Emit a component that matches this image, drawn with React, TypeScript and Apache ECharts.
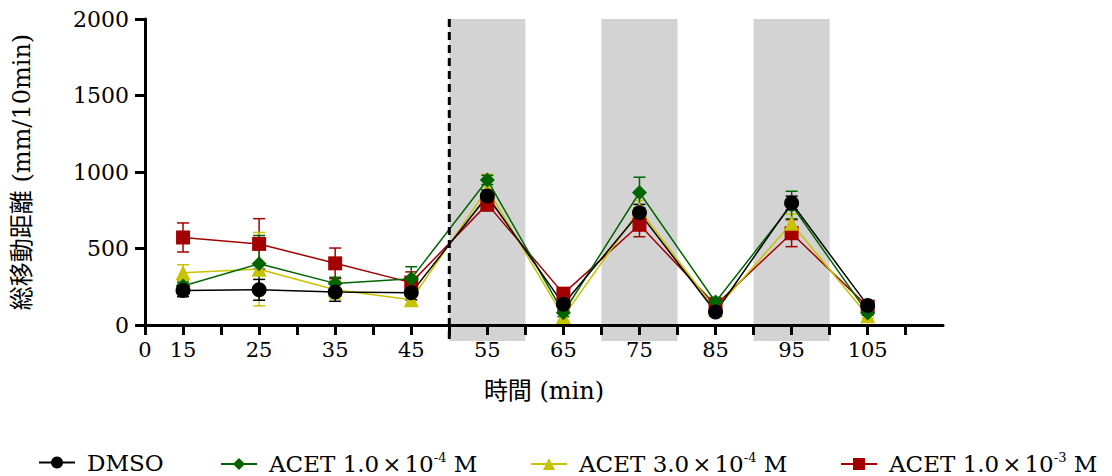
import React, { useEffect, useRef } from "react";
import * as echarts from "echarts";

const times = [15, 25, 35, 45, 55, 65, 75, 85, 95, 105];
const seriesNames = ["DMSO", "ACET 1.0×10^-4 M", "ACET 3.0×10^-4 M", "ACET 1.0×10^-3 M"];
const dmso = [225, 230, 215, 210, 843, 135, 733, 85, 797, 128];
const dmsoErr = [40, 68, 60, 45, 40, 40, 55, 20, 45, 20];
const acet1e4 = [255, 400, 272, 303, 948, 80, 866, 150, 784, 78];
const acet1e4Err = [25, 185, 40, 78, 30, 25, 100, 30, 90, 15];
const acet3e4 = [342, 365, 230, 165, 890, 55, 755, 100, 665, 60];
const acet3e4Err = [52, 240, 60, 30, 95, 35, 60, 20, 60, 15];
const acet1e3 = [572, 530, 403, 277, 790, 205, 655, 130, 600, 120];
const acet1e3Err = [95, 165, 100, 70, 45, 25, 78, 25, 88, 15];
const shadedRanges = [[50, 60], [70, 80], [90, 100]];
const dashedAt = 50;
const yTop = 2000;

const colors = ["#000000", "#006400", "#c8c300", "#a50000"];
const symbols = ["circle", "diamond", "triangle", "rect"];
const symbolSizes = [15, 15, 15, 14];
const means = [dmso, acet1e4, acet3e4, acet1e3];
const errs = [dmsoErr, acet1e4Err, acet3e4Err, acet1e3Err];
const legendLefts = [33, 215, 525, 835];

const FONT = "'DejaVu Serif', 'Noto Sans CJK JP', serif";

export default function App() {
  const ref = useRef<HTMLDivElement>(null);
  useEffect(() => {
    if (!ref.current) return;
    const chart = echarts.init(ref.current, undefined, { renderer: "svg" });
    const order = [3, 2, 1, 0];
    const series: any[] = [];
    order.forEach((i) => {
      series.push({
        type: "custom",
        name: "err" + i,
        z: 1,
        data: times.map((t, k) => [t, means[i][k], errs[i][k]]),
        encode: { x: 0, y: 1 },
        renderItem: (params: any, api: any) => {
          const x = api.value(0);
          const y = api.value(1);
          const e = api.value(2);
          const top = api.coord([x, y + e]);
          const bot = api.coord([x, y - e]);
          const half = 6;
          const st = { stroke: colors[i], lineWidth: 1.5 };
          return {
            type: "group",
            children: [
              { type: "line", shape: { x1: top[0], y1: top[1], x2: bot[0], y2: bot[1] }, style: st },
              { type: "line", shape: { x1: top[0] - half, y1: top[1], x2: top[0] + half, y2: top[1] }, style: st },
              { type: "line", shape: { x1: bot[0] - half, y1: bot[1], x2: bot[0] + half, y2: bot[1] }, style: st },
            ],
          };
        },
      });
    });
    order.forEach((i) => {
      series.push({
        type: "line",
        name: seriesNames[i],
        z: 3,
        data: times.map((t, k) => [t, means[i][k]]),
        symbol: symbols[i],
        symbolSize: symbolSizes[i],
        itemStyle: { color: colors[i] },
        lineStyle: { color: colors[i], width: 1.5 },
      });
    });

    const legendFormatter = (name: string) => {
      const m = name.match(/^(.*)×(\d+)\^(-\d)(.*)$/);
      if (!m) return "{a|" + name + "}";
      return "{a|" + m[1] + "}{x|×}{a|" + m[2] + "}{sup|" + m[3] + "}{a|" + m[4] + "}";
    };

    const legends = seriesNames.map((n, i) => ({
      data: [n],
      left: legendLefts[i],
      top: 446,
      itemWidth: 36,
      itemHeight: 15,
      formatter: legendFormatter,
      textStyle: {
        fontFamily: FONT,
        fontSize: 23,
        color: "#000",
        padding: [0, 0, 0, 7],
        rich: {
          a: { fontFamily: FONT, fontSize: 23, color: "#000", lineHeight: 26 },
          x: { fontFamily: FONT, fontSize: 23, color: "#000", lineHeight: 26, padding: [0, 3, 0, 3] },
          sup: { fontFamily: FONT, fontSize: 13, color: "#000", verticalAlign: "top", lineHeight: 26 },
        },
      },
    }));

    chart.setOption({
      animation: false,
      color: colors,
      grid: { left: 145, right: 169, top: 19, bottom: 151, containLabel: false },
      legend: legends,
      xAxis: {
        type: "value",
        min: 10,
        max: 114.9,
        interval: 5,
        name: "時間 (min)",
        nameLocation: "middle",
        nameGap: 54,
        nameTextStyle: { fontFamily: FONT, fontSize: 24, color: "#000" },
        axisLine: { show: true, onZero: false, lineStyle: { color: "#000", width: 3 } },
        axisTick: { show: true, length: 10, lineStyle: { color: "#000", width: 3 } },
        splitLine: { show: false },
        axisLabel: {
          margin: 14,
          fontFamily: FONT,
          fontSize: 21,
          color: "#000",
          showMaxLabel: false,
          formatter: (v: number) => {
            if (v === 10) return "0";
            if (v >= 15 && v <= 105 && (v - 15) % 10 === 0) return String(v);
            return "";
          },
        },
      },
      yAxis: {
        type: "value",
        min: 0,
        max: 2000,
        interval: 500,
        name: "総移動距離 (mm/10min)",
        nameLocation: "middle",
        nameGap: 111,
        nameRotate: 90,
        nameTextStyle: { fontFamily: FONT, fontSize: 24, color: "#000" },
        axisLine: { show: true, lineStyle: { color: "#000", width: 3 } },
        axisTick: { show: true, length: 10, lineStyle: { color: "#000", width: 3 } },
        splitLine: { show: false },
        axisLabel: { margin: 16, fontFamily: FONT, fontSize: 22, color: "#000", formatter: (v: number) => String(v) },
      },
      series,
    });

    const below = 16;
    const graphics: any[] = [];
    shadedRanges.forEach(([a, b]) => {
      const p1 = chart.convertToPixel({ gridIndex: 0 }, [a, yTop]) as number[];
      const p2 = chart.convertToPixel({ gridIndex: 0 }, [b, 0]) as number[];
      graphics.push({
        type: "rect",
        z: -10,
        shape: { x: p1[0], y: p1[1], width: p2[0] - p1[0], height: p2[1] - p1[1] + below },
        style: { fill: "#d3d3d3" },
      });
    });
    const d1 = chart.convertToPixel({ gridIndex: 0 }, [dashedAt, yTop]) as number[];
    const d2 = chart.convertToPixel({ gridIndex: 0 }, [dashedAt, 0]) as number[];
    graphics.push({
      type: "line",
      z: 5,
      shape: { x1: d1[0], y1: d1[1], x2: d2[0], y2: d2[1] + below },
      style: { stroke: "#000", lineWidth: 3, lineDash: [8, 5] },
    });
    chart.setOption({ graphic: graphics });

    return () => chart.dispose();
  }, []);
  return <div ref={ref} style={{ width: 1112, height: 476, position: "absolute", left: 0, top: 0 }} />;
}
